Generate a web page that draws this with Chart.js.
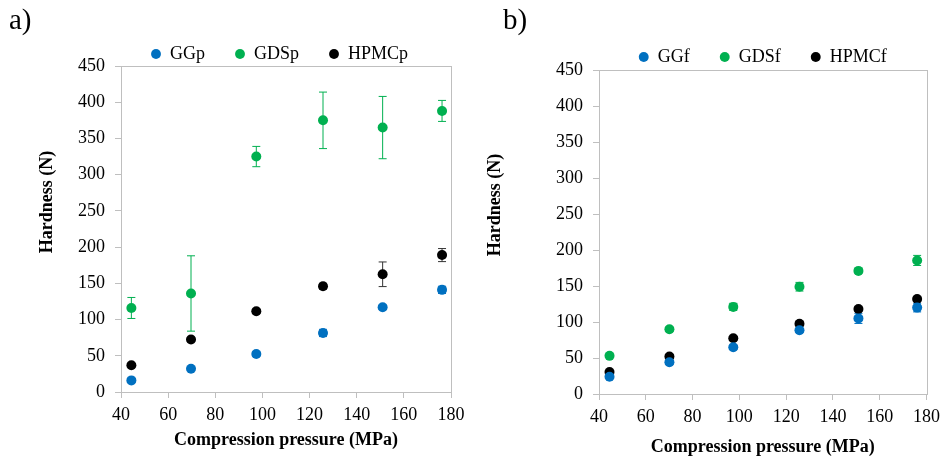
<!DOCTYPE html>
<html>
<head>
<meta charset="utf-8">
<script src="https://cdn.jsdelivr.net/npm/chart.js@4.4.1/dist/chart.umd.min.js"></script>
<style>
    body { margin: 0; background: #fff; }
    #wrap { position: relative; width: 946px; height: 461px; overflow: hidden; font-family: "Liberation Serif", "Times New Roman", serif; }
    .box { position: absolute; top: 0; width: 473px; height: 461px; }
    .panel { position: absolute; font-size: 29px; color: #000; }
    .ytitle { position: absolute; font-size: 18px; font-weight: bold; white-space: nowrap; transform: translate(-50%, -50%) rotate(-90deg); }
</style>
</head>
<body>
<div id="wrap">
    <div class="box" style="left:0"><canvas id="chartA"></canvas></div>
    <div class="box" style="left:473px"><canvas id="chartB"></canvas></div>
    <div class="panel" style="left:9px;top:3px">a)</div>
    <div class="panel" style="left:503px;top:3px">b)</div>
    <div class="ytitle" style="left:46px;top:202px">Hardness (N)</div>
    <div class="ytitle" style="left:494px;top:205px">Hardness (N)</div>
</div>
<script>
// pressures (MPa)
const presionA = [44.4, 69.7, 97.4, 125.7, 151.0, 176.2];
const presionB = [44.5, 70.1, 97.4, 125.7, 150.9, 176.0];

// a) hardness (N) and std dev
const GGp = [16, 32, 52.5, 81.5, 117, 141];
const GGpErr = [2, 2, 3, 5, 3, 5];
const GDSp = [116, 136, 325, 375, 365, 388];
const GDSpErr = [14.5, 52, 14, 39, 43, 14.5];
const HPMCp = [37, 72.5, 111.5, 146, 162.5, 189];
const HPMCpErr = [2, 3, 3, 4, 17, 9];

// b)
const GGf = [24, 44, 65, 88.5, 105, 120];
const GGfErr = [2, 3, 3, 3, 7, 6];
const GDSf = [53, 90, 121, 149, 171, 185.5];
const GDSfErr = [2, 3, 5, 6, 3, 7];
const HPMCf = [30.5, 52, 77.5, 97.5, 118, 132];
const HPMCfErr = [2, 3, 2, 3, 3, 3];

const xTicks = [40, 60, 80, 100, 120, 140, 160, 180];
const yTicks = [0, 50, 100, 150, 200, 250, 300, 350, 400, 450];

const AZUL = '#0070C0';
const VERDE = '#00B050';
const NEGRO = '#000000';
const GRIS = '#BFBFBF';

const toPoints = (xs, ys) => xs.map((x, i) => ({ x: x, y: ys[i] }));

const serie = (label, xs, ys, errs, color, barColor) => ({
    label: label,
    data: toPoints(xs, ys),
    errores: errs,
    barColor: barColor,
    backgroundColor: color,
    borderColor: color,
    pointRadius: 5,
    pointHoverRadius: 5,
    pointBorderWidth: 0,
    showLine: false
});

// error bars + box around plot area
const errorBars = {
    id: 'errorBars',
    beforeDatasetsDraw(chart) {
        const ctx = chart.ctx;
        const yScale = chart.scales.y;
        chart.data.datasets.forEach((ds, i) => {
            const meta = chart.getDatasetMeta(i);
            ctx.save();
            ctx.strokeStyle = ds.barColor;
            ctx.lineWidth = 1;
            meta.data.forEach((pt, j) => {
                const v = ds.data[j].y;
                const e = ds.errores[j];
                const top = yScale.getPixelForValue(v + e);
                const bot = yScale.getPixelForValue(v - e);
                ctx.beginPath();
                ctx.moveTo(pt.x, top);
                ctx.lineTo(pt.x, bot);
                ctx.moveTo(pt.x - 4, top);
                ctx.lineTo(pt.x + 4, top);
                ctx.moveTo(pt.x - 4, bot);
                ctx.lineTo(pt.x + 4, bot);
                ctx.stroke();
            });
            ctx.restore();
        });
    },
    beforeDraw(chart) {
        const a = chart.chartArea;
        const ctx = chart.ctx;
        ctx.save();
        ctx.strokeStyle = GRIS;
        ctx.lineWidth = 1;
        ctx.strokeRect(Math.round(a.left) + 0.5, Math.round(a.top) + 0.5, Math.round(a.right - a.left), Math.round(a.bottom - a.top));
        ctx.restore();
    }
};

const crearGrafico = (id, datasets, cfg) => {
    return new Chart(document.getElementById(id), {
        type: 'scatter',
        data: { datasets: datasets },
        plugins: [errorBars],
        options: {
            responsive: true,
            maintainAspectRatio: false,
            animation: false,
            layout: { padding: { left: 0, right: cfg.right, top: cfg.top, bottom: 0 } },
            plugins: {
                tooltip: { enabled: false },
                legend: {
                    position: 'top',
                    fullSize: false,
                    align: cfg.align,
                    maxHeight: cfg.legendH,
                    labels: {
                        usePointStyle: true,
                        pointStyle: 'circle',
                        boxWidth: 10,
                        boxHeight: 7,
                        padding: 30,
                        color: '#000',
                        font: { family: 'Liberation Serif', size: 18 }
                    }
                }
            },
            scales: {
                x: {
                    type: 'linear',
                    min: 40,
                    max: 180,
                    afterBuildTicks: s => { s.ticks = xTicks.map(v => ({ value: v })); },
                    afterFit: s => { s.height = cfg.xH; },
                    grid: { drawOnChartArea: false, drawTicks: true, tickLength: 6, color: GRIS },
                    border: { color: GRIS },
                    ticks: { padding: 6, color: '#000', font: { family: 'Liberation Serif', size: 18 } },
                    title: {
                        display: true,
                        text: 'Compression pressure (MPa)',
                        color: '#000',
                        font: { family: 'Liberation Serif', size: 18, weight: 'bold' },
                        padding: { top: 0, bottom: cfg.titlePad }
                    }
                },
                y: {
                    min: 0,
                    max: 450,
                    afterBuildTicks: s => { s.ticks = yTicks.map(v => ({ value: v })); },
                    afterFit: s => { s.width = cfg.yW; },
                    grid: { drawOnChartArea: false, drawTicks: true, tickLength: 6, color: GRIS },
                    border: { color: GRIS },
                    ticks: { padding: 10, color: '#000', font: { family: 'Liberation Serif', size: 18 } }
                }
            }
        }
    });
};

crearGrafico('chartA', [
    serie('GGp', presionA, GGp, GGpErr, AZUL, AZUL),
    serie('GDSp', presionA, GDSp, GDSpErr, VERDE, VERDE),
    serie('HPMCp', presionA, HPMCp, HPMCpErr, NEGRO, '#333333')
], { right: 22, top: 15, legendH: 51, align: 'start', xH: 69, yW: 121, titlePad: 10 });

crearGrafico('chartB', [
    serie('GGf', presionB, GGf, GGfErr, AZUL, AZUL),
    serie('GDSf', presionB, GDSf, GDSfErr, VERDE, VERDE),
    serie('HPMCf', presionB, HPMCf, HPMCfErr, NEGRO, '#333333')
], { right: 17, top: 18, legendH: 52, align: 'center', xH: 67, yW: 126, titlePad: 3 });
</script>
</body>
</html>
